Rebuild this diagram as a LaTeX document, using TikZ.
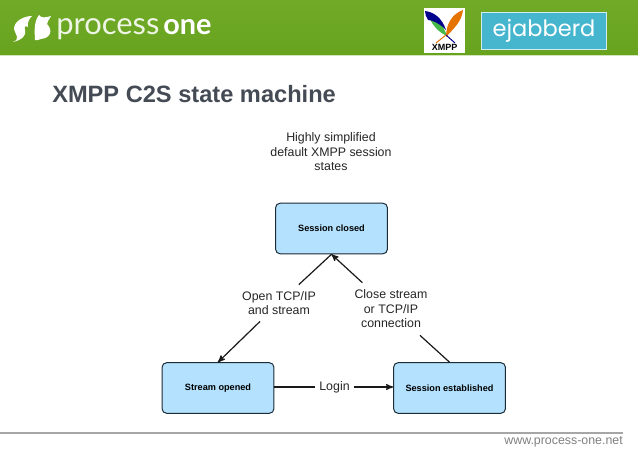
\documentclass[tikz,border=0pt]{standalone}
\usepackage{fontspec}
\setmainfont{Liberation Sans}
\newfontfamily\logofont{Lato}
\newfontfamily\badgefont{Poppins}
\usetikzlibrary{arrows}
\definecolor{header}{HTML}{70AA26}
\definecolor{headerlow}{HTML}{68A320}
\definecolor{titlegray}{HTML}{454B55}
\definecolor{boxblue}{HTML}{B3E1FE}
\definecolor{boxline}{HTML}{1C2B35}
\definecolor{badge}{HTML}{46B6CF}
\tikzset{
  state/.style={draw=boxline, line width=0.7pt, fill=boxblue, rounded corners=3.2pt, minimum width=79.5pt, minimum height=36pt, inner sep=0pt, font=\fontsize{6.5}{8}\selectfont\bfseries},
  lbl/.style={align=center, inner sep=1.5pt, font=\fontsize{8.8}{10.3}\selectfont, text=black!85},
  conn/.style={line width=0.85pt, black!90},
  arr/.style={conn, ->, >=stealth'}
}
\begin{document}
\begin{tikzpicture}[x=0.025cm,y=-0.025cm]
\useasboundingbox (0,0) rectangle (638,452);
\fill[white] (0,0) rectangle (638,452);
\shade[top color=header, bottom color=headerlow] (0,0) rectangle (638,55.5);
\fill[white!70!header] (0,55.5) rectangle (638,56.5);
\fill[white] (13,42) .. controls (21,39) and (15,34) .. (14,29) .. controls (14,21) and (24,16) .. (32,16) .. controls (29,19) and (27,23) .. (28,27) .. controls (25,25) and (24,27) .. (25,30) .. controls (27,35) and (22,40) .. (13,42) -- cycle;
\fill[white] (39,15) .. controls (41,18) and (45,18) .. (51,16) .. controls (49,20) and (47,22) .. (47,24) .. controls (53,30) and (51,38) .. (41,39) .. controls (38,40) and (36,41) .. (35,40) .. controls (35,36) and (33,22) .. (39,15) -- cycle;
\node[text=white!88!header, font=\logofont\fontsize{22}{22}\selectfont, anchor=base west, inner sep=0pt] (logoname) at (56,35) {process};
\node[text=white, font=\logofont\bfseries\fontsize{20.5}{22}\selectfont, anchor=base west, inner sep=0pt] (logoone) at (163,35) {one};
\fill[white] (424,8) rectangle (465,53);
\fill[green!45!gray] (428,14) .. controls (436,18) and (443,24) .. (447,36) .. controls (438,32) and (431,24) .. (428,14) -- cycle;
\fill[blue!55!black] (425,11) .. controls (434,12) and (442,18) .. (446,30) .. controls (438,22) and (431,20) .. (428,20) .. controls (426,17) and (425,14) .. (425,11) -- cycle;
\fill[orange!90!black] (463,10) .. controls (462,22) and (452,30) .. (446,37) .. controls (446,24) and (452,14) .. (463,10) -- cycle;
\draw[blue!55!black, line width=0.7pt] (446,35) -- (455,43);
\draw[orange!90!black, line width=0.7pt] (446,35) -- (436,43);
\node[font=\fontsize{6.4}{7}\selectfont\bfseries, inner sep=0pt] (xmpplogo) at (444.5,47.5) {XMPP};
\node[draw=white!75!badge, line width=1pt, fill=badge, minimum width=89pt, minimum height=26pt, inner sep=0pt, text=white, font=\badgefont\fontsize{16}{16}\selectfont] (ejabberd) at (544,31) {ejabberd};
\node[anchor=base west, inner sep=0pt, text=titlegray, font=\fontsize{16.8}{20}\selectfont\bfseries] (title) at (52,102.5) {XMPP C2S state machine};
\node[lbl] (note) at (331,152) {Highly simplified\\default XMPP session\\states};
\node[state] (closed) at (331.5,228.5) {Session closed};
\node[state] (opened) at (218,388) {Stream opened};
\node[state] (established) at (449.5,388) {Session established};
\node[lbl, inner xsep=2pt, inner ysep=4.5pt] (opentcp) at (279,303) {Open TCP/IP\\and stream};
\node[lbl, inner xsep=2pt, inner ysep=5pt] (closetcp) at (391,309) {Close stream\\or TCP/IP\\connection};
\node[lbl, inner xsep=3pt] (login) at (334.5,387) {Login};
\draw[conn] (closed.south) -- (opentcp);
\draw[arr] (opentcp) -- (opened.north);
\draw[conn] (established.north) -- (closetcp);
\draw[arr] (closetcp) -- (closed.south);
\draw[conn] (opened.east |- login) -- (login);
\draw[arr] (login) -- (established.west |- login);
\coordinate (ruleleft) at (0,433);
\coordinate (ruleright) at (623,433);
\draw[black!35, line width=0.8pt] (ruleleft) -- (ruleright);
\node[anchor=east, inner sep=0pt, text=black!50, font=\fontsize{8.8}{10}\selectfont] (website) at (623,442) {www.process-one.net};
\end{tikzpicture}
\end{document}
